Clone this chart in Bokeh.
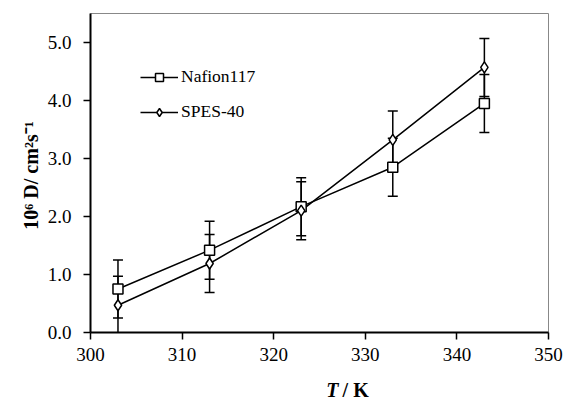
from bokeh.plotting import figure
from bokeh.layouts import column
from bokeh.models import ColumnDataSource, Whisker, TeeHead, FixedTicker, NumeralTickFormatter, Range1d, Legend, LegendItem
from bokeh.core.properties import value
from bokeh.embed import file_html
from bokeh.resources import INLINE

T = [303, 313, 323, 333, 343]
nafion = [0.75, 1.42, 2.17, 2.85, 3.95]
spes = [0.47, 1.19, 2.10, 3.32, 4.57]
nafion_err = [0.5, 0.5, 0.5, 0.5, 0.5]
spes_err = [0.5, 0.5, 0.5, 0.5, 0.5]
x_ticks = [300, 310, 320, 330, 340, 350]
y_ticks = [0, 1, 2, 3, 4, 5]

FONT = "Liberation Serif"

p = figure(width=565, height=372, output_backend="svg", toolbar_location=None,
           x_range=Range1d(300, 350), y_range=Range1d(0, 5.5),
           min_border_left=90, min_border_right=17, min_border_top=13, min_border_bottom=40)
p.grid.visible = False
p.outline_line_color = "#888888"
p.outline_line_width = 1
p.background_fill_color = "white"
p.border_fill_color = "white"

for ax in (p.xaxis, p.yaxis):
    ax.axis_line_color = "black"
    ax.axis_line_width = 2
    ax.major_tick_line_color = "black"
    ax.major_tick_line_width = 1.5
    ax.major_tick_out = 7
    ax.major_tick_in = 0
    ax.minor_tick_line_color = None
    ax.major_label_text_font = FONT
    ax.major_label_text_font_size = "19px"
    ax.major_label_text_color = "black"

p.xaxis.ticker = FixedTicker(ticks=x_ticks)
p.yaxis.ticker = FixedTicker(ticks=y_ticks)
p.yaxis.formatter = NumeralTickFormatter(format="0.0")
p.xaxis.major_label_standoff = 8
p.yaxis.major_label_standoff = 12

p.yaxis.axis_label = "10\u2076 D/  cm\u00b2s\u207b\u00b9"
p.yaxis.axis_label_text_font = FONT
p.yaxis.axis_label_text_font_style = "bold"
p.yaxis.axis_label_text_font_size = "20px"
p.yaxis.axis_label_text_color = "black"
p.yaxis.axis_label_standoff = 3

src_n = ColumnDataSource(dict(x=T, y=nafion,
                              lo=[v - e for v, e in zip(nafion, nafion_err)],
                              hi=[v + e for v, e in zip(nafion, nafion_err)]))
src_s = ColumnDataSource(dict(x=T, y=spes,
                              lo=[v - e for v, e in zip(spes, spes_err)],
                              hi=[v + e for v, e in zip(spes, spes_err)]))

ln = p.line("x", "y", source=src_n, line_color="black", line_width=1.5)
ls = p.line("x", "y", source=src_s, line_color="black", line_width=1.5)

for src in (src_n, src_s):
    w = Whisker(source=src, base="x", lower="lo", upper="hi", line_color="black", line_width=1.5,
                upper_head=TeeHead(size=10, line_color="black", line_width=1.5),
                lower_head=TeeHead(size=10, line_color="black", line_width=1.5))
    p.add_layout(w)

mn = p.scatter("x", "y", source=src_n, marker="square", size=10, fill_color="white",
               line_color="black", line_width=1.5)
ms = p.scatter("x", "y", source=src_s, marker="diamond", size=11,
               fill_color="white", line_color="black", line_width=1.5)

legend = Legend(items=[LegendItem(label="Nafion117", renderers=[ln, mn]),
                       LegendItem(label="SPES-40", renderers=[ls, ms])],
                location=(50, 210), border_line_color=None, background_fill_alpha=0,
                padding=0, margin=0, spacing=14, glyph_width=38, glyph_height=20,
                label_height=20, label_standoff=3,
                label_text_font=FONT, label_text_font_size="17.5px", label_text_color="black")
p.add_layout(legend, "center")

# x axis title row (mixed bold-italic "T" and bold "/ K")
q = figure(width=565, height=29, output_backend="svg", toolbar_location=None,
           x_range=Range1d(0, 565), y_range=Range1d(0, 29),
           min_border_left=0, min_border_right=0, min_border_top=0, min_border_bottom=0,
           x_axis_type=None, y_axis_type=None)
q.grid.visible = False
q.outline_line_color = None
q.border_fill_color = "white"
q.background_fill_color = "white"
q.text(x=[306], y=[12], text=["T"], text_font=value(FONT), text_font_style="bold italic",
       text_font_size="20px", text_align="right", text_baseline="middle", text_color="black")
q.text(x=[311], y=[12], text=["/ K"], text_font=value(FONT), text_font_style="bold",
       text_font_size="20px", text_align="left", text_baseline="middle", text_color="black")

layout = column(p, q, spacing=0)
open("out.html", "w").write(file_html(layout, INLINE))
